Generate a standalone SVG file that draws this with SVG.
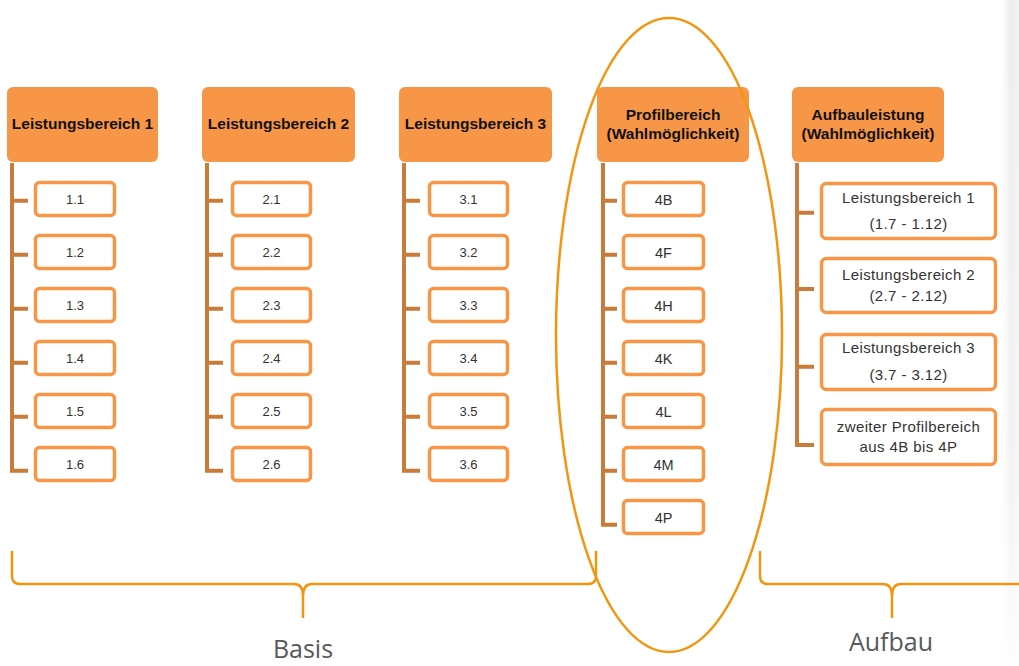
<svg xmlns="http://www.w3.org/2000/svg" width="1019" height="666" viewBox="0 0 1019 666">
<style>
.hdr{fill:#F79646}
.ht{font-family:"Liberation Sans",Arial,sans-serif;font-weight:bold;font-size:15.5px;fill:#111;text-anchor:middle}
.box{fill:#fff;stroke:#F79646;stroke-width:3.5}
.bt{font-family:"Liberation Sans",Arial,sans-serif;font-size:13px;fill:#333;text-anchor:middle}
.bt2{font-family:"Liberation Sans",Arial,sans-serif;font-size:14.5px;fill:#333;text-anchor:middle}
.bt3{font-family:"Liberation Sans",Arial,sans-serif;font-size:15px;letter-spacing:0.4px;fill:#333;text-anchor:middle}
.conn{fill:none;stroke:#C97B3B;stroke-width:4}
.brace{fill:none;stroke:#F29611;stroke-width:2.5}
.lbl{font-family:"Open Sans","Liberation Sans",sans-serif;font-size:25px;fill:#595959;text-anchor:middle}
</style>
<defs>
<linearGradient id="sh" x1="0" y1="0" x2="1" y2="0">
<stop offset="0" stop-color="#ffffff" stop-opacity="0"/>
<stop offset="0.6" stop-color="#ececec" stop-opacity="1"/>
<stop offset="1" stop-color="#f3f3f3" stop-opacity="1"/>
</linearGradient>
<linearGradient id="shv" x1="0" y1="0" x2="0" y2="1">
<stop offset="0" stop-color="#ffffff" stop-opacity="0"/>
<stop offset="0.7" stop-color="#ffffff" stop-opacity="0.3"/>
<stop offset="1" stop-color="#ffffff" stop-opacity="0.9"/>
</linearGradient>
</defs>
<rect width="1019" height="666" fill="#fff"/>
<rect x="998" y="0" width="21" height="666" fill="url(#sh)"/>
<rect x="998" y="0" width="21" height="666" fill="url(#shv)"/>

<g id="connectors">
<path class="conn" d="M12,163 V472.7 M10,200.7 H28 M10,254.7 H28 M10,308.7 H28 M10,362.7 H28 M10,416.7 H28 M10,470.7 H28"/>
<path class="conn" d="M207,163 V472.7 M205,200.7 H223 M205,254.7 H223 M205,308.7 H223 M205,362.7 H223 M205,416.7 H223 M205,470.7 H223"/>
<path class="conn" d="M404,163 V472.7 M402,200.7 H420 M402,254.7 H420 M402,308.7 H420 M402,362.7 H420 M402,416.7 H420 M402,470.7 H420"/>
<path class="conn" d="M603,163 V526.7 M601,200.7 H617 M601,254.7 H617 M601,308.7 H617 M601,362.7 H617 M601,416.7 H617 M601,470.7 H617 M601,524.7 H617"/>
<path class="conn" d="M797,163 V447 M795,212.7 H814 M795,289 H814 M795,366.7 H814 M795,445 H814"/>
</g>

<g id="h1"><rect class="hdr" x="7" y="87" width="151" height="75" rx="6"/><text class="ht" x="82.5" y="129">Leistungsbereich 1</text></g>
<g id="h2"><rect class="hdr" x="202" y="87" width="153" height="75" rx="6"/><text class="ht" x="278.5" y="129">Leistungsbereich 2</text></g>
<g id="h3"><rect class="hdr" x="399" y="87" width="153" height="75" rx="6"/><text class="ht" x="475.5" y="129">Leistungsbereich 3</text></g>
<g id="h4"><rect class="hdr" x="597" y="87" width="152" height="75" rx="6"/><text class="ht" x="673" y="120">Profilbereich</text><text class="ht" x="673" y="139">(Wahlmöglichkeit)</text></g>
<g id="h5"><rect class="hdr" x="792" y="87" width="152" height="75" rx="6"/><text class="ht" x="868" y="120">Aufbauleistung</text><text class="ht" x="868" y="139">(Wahlmöglichkeit)</text></g>

<g id="n1_1"><rect class="box" x="35.5" y="182.5" width="79" height="33" rx="4"/><text class="bt" x="75" y="204">1.1</text></g>
<g id="n1_2"><rect class="box" x="35.5" y="235.5" width="79" height="33" rx="4"/><text class="bt" x="75" y="257">1.2</text></g>
<g id="n1_3"><rect class="box" x="35.5" y="288.5" width="79" height="33" rx="4"/><text class="bt" x="75" y="310">1.3</text></g>
<g id="n1_4"><rect class="box" x="35.5" y="341.5" width="79" height="33" rx="4"/><text class="bt" x="75" y="363">1.4</text></g>
<g id="n1_5"><rect class="box" x="35.5" y="394.5" width="79" height="33" rx="4"/><text class="bt" x="75" y="416">1.5</text></g>
<g id="n1_6"><rect class="box" x="35.5" y="447.5" width="79" height="33" rx="4"/><text class="bt" x="75" y="469">1.6</text></g>

<g id="n2_1"><rect class="box" x="232.5" y="182.5" width="78" height="33" rx="4"/><text class="bt" x="271.5" y="204">2.1</text></g>
<g id="n2_2"><rect class="box" x="232.5" y="235.5" width="78" height="33" rx="4"/><text class="bt" x="271.5" y="257">2.2</text></g>
<g id="n2_3"><rect class="box" x="232.5" y="288.5" width="78" height="33" rx="4"/><text class="bt" x="271.5" y="310">2.3</text></g>
<g id="n2_4"><rect class="box" x="232.5" y="341.5" width="78" height="33" rx="4"/><text class="bt" x="271.5" y="363">2.4</text></g>
<g id="n2_5"><rect class="box" x="232.5" y="394.5" width="78" height="33" rx="4"/><text class="bt" x="271.5" y="416">2.5</text></g>
<g id="n2_6"><rect class="box" x="232.5" y="447.5" width="78" height="33" rx="4"/><text class="bt" x="271.5" y="469">2.6</text></g>

<g id="n3_1"><rect class="box" x="429.5" y="182.5" width="78" height="33" rx="4"/><text class="bt" x="468.5" y="204">3.1</text></g>
<g id="n3_2"><rect class="box" x="429.5" y="235.5" width="78" height="33" rx="4"/><text class="bt" x="468.5" y="257">3.2</text></g>
<g id="n3_3"><rect class="box" x="429.5" y="288.5" width="78" height="33" rx="4"/><text class="bt" x="468.5" y="310">3.3</text></g>
<g id="n3_4"><rect class="box" x="429.5" y="341.5" width="78" height="33" rx="4"/><text class="bt" x="468.5" y="363">3.4</text></g>
<g id="n3_5"><rect class="box" x="429.5" y="394.5" width="78" height="33" rx="4"/><text class="bt" x="468.5" y="416">3.5</text></g>
<g id="n3_6"><rect class="box" x="429.5" y="447.5" width="78" height="33" rx="4"/><text class="bt" x="468.5" y="469">3.6</text></g>

<g id="n4B"><rect class="box" x="623.5" y="182.5" width="80" height="33" rx="4"/><text class="bt2" x="663.5" y="204.5">4B</text></g>
<g id="n4F"><rect class="box" x="623.5" y="235.5" width="80" height="33" rx="4"/><text class="bt2" x="663.5" y="257.5">4F</text></g>
<g id="n4H"><rect class="box" x="623.5" y="288.5" width="80" height="33" rx="4"/><text class="bt2" x="663.5" y="310.5">4H</text></g>
<g id="n4K"><rect class="box" x="623.5" y="341.5" width="80" height="33" rx="4"/><text class="bt2" x="663.5" y="363.5">4K</text></g>
<g id="n4L"><rect class="box" x="623.5" y="394.5" width="80" height="33" rx="4"/><text class="bt2" x="663.5" y="416.5">4L</text></g>
<g id="n4M"><rect class="box" x="623.5" y="447.5" width="80" height="33" rx="4"/><text class="bt2" x="663.5" y="469.5">4M</text></g>
<g id="n4P"><rect class="box" x="623.5" y="500.5" width="80" height="33" rx="4"/><text class="bt2" x="663.5" y="522.5">4P</text></g>

<g id="a1"><rect class="box" x="821.5" y="183.5" width="174" height="55" rx="5"/><text class="bt3" x="908.5" y="203">Leistungsbereich 1</text><text class="bt3" x="908.5" y="229">(1.7 - 1.12)</text></g>
<g id="a2"><rect class="box" x="821.5" y="258.5" width="174" height="54" rx="5"/><text class="bt3" x="908.5" y="280">Leistungsbereich 2</text><text class="bt3" x="908.5" y="301">(2.7 - 2.12)</text></g>
<g id="a3"><rect class="box" x="821.5" y="334.5" width="174" height="55" rx="5"/><text class="bt3" x="908.5" y="353">Leistungsbereich 3</text><text class="bt3" x="908.5" y="380">(3.7 - 3.12)</text></g>
<g id="a4"><rect class="box" x="821.5" y="409.5" width="174" height="55" rx="5"/><text class="bt3" x="908.5" y="432">zweiter Profilbereich</text><text class="bt3" x="908.5" y="452">aus 4B bis 4P</text></g>

<g id="annotations">
<ellipse class="brace" cx="669" cy="335" rx="113" ry="317"/>
<path class="brace" d="M12,551 V576 Q12,584 20,584 H294 Q303,584 303,596 V618 M303,596 Q303,584 312,584 H588 Q596,584 596,576 V551"/>
<path class="brace" d="M760,551 V576 Q760,584 768,584 H883 Q892,584 892,596 V618 M892,596 Q892,584 901,584 H1019"/>
<text class="lbl" x="303" y="658">Basis</text>
<text class="lbl" x="891" y="651">Aufbau</text>
</g>
</svg>
